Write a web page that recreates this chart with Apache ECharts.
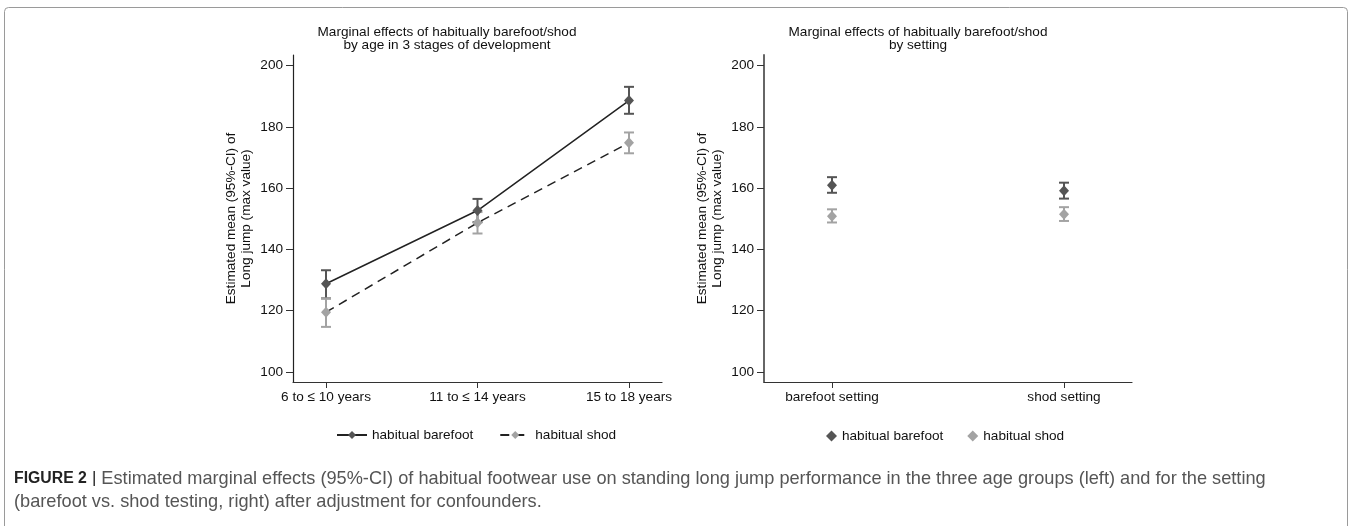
<!DOCTYPE html>
<html>
<head>
<meta charset="utf-8">
<script src="https://cdn.jsdelivr.net/npm/echarts@6/dist/echarts.min.js"></script>
<style>
  html, body { margin: 0; padding: 0; background: #fff; }
  #chart { width: 1354px; height: 526px; }
</style>
</head>
<body>
<div id="chart"></div>
<script>
// left panel: age groups
const ageGroups = ['6 to \u2264 10 years', '11 to \u2264 14 years', '15 to 18 years']
const ageBarefootMean = [128.8, 152.7, 188.6]
const ageBarefootLow = [124.0, 148.9, 184.3]
const ageBarefootHigh = [133.2, 156.5, 193.1]
const ageShodMean = [119.5, 148.7, 174.8]
const ageShodLow = [114.7, 145.2, 171.4]
const ageShodHigh = [124.0, 152.2, 178.2]

// right panel: setting
const settings = ['barefoot setting', 'shod setting']
const setBarefootMean = [161.0, 159.2]
const setBarefootLow = [158.5, 156.6]
const setBarefootHigh = [163.6, 161.8]
const setShodMean = [150.8, 151.5]
const setShodLow = [148.8, 149.3]
const setShodHigh = [153.1, 153.8]

const yTicks = [100, 120, 140, 160, 180, 200]

const DARK = '#555555'
const LIGHT = '#a3a3a3'
const LINE = '#222222'
const FONT = '"Liberation Sans", Arial, sans-serif'
const FS = 13.6

const pts = (means) => means.map((v, i) => [i + 1, v])
const bars = (lo, hi) => lo.map((v, i) => [i + 1, v, hi[i]])

const errorBar = (color) => (params, api) => {
  const top = api.coord([api.value(0), api.value(2)])
  const bot = api.coord([api.value(0), api.value(1)])
  const w = 5
  const style = { stroke: color, lineWidth: 2 }
  return {
    type: 'group',
    children: [
      { type: 'line', shape: { x1: top[0], y1: top[1], x2: bot[0], y2: bot[1] }, style },
      { type: 'line', shape: { x1: top[0] - w, y1: top[1], x2: top[0] + w, y2: top[1] }, style },
      { type: 'line', shape: { x1: bot[0] - w, y1: bot[1], x2: bot[0] + w, y2: bot[1] }, style },
    ],
  }
}

const yAxisBase = (gridIndex, axisColor, axisWidth) => ({
  type: 'value',
  gridIndex,
  min: 96.7,
  max: 203.5,
  splitLine: { show: false },
  axisLine: { show: true, lineStyle: { color: axisColor, width: axisWidth } },
  axisTick: { show: true, length: 7, customValues: yTicks, lineStyle: { color: '#333' } },
  axisLabel: { customValues: yTicks, color: '#111', fontSize: FS, fontFamily: FONT, margin: 10 },
  name: 'Estimated mean (95%-CI) of\nLong jump (max value)',
  nameLocation: 'middle',
  nameGap: 39,
  nameTextStyle: { color: '#111', fontSize: FS, fontFamily: FONT, lineHeight: 15 },
})

const xAxisBase = (gridIndex, min, max, cats) => ({
  type: 'value',
  gridIndex,
  min,
  max,
  splitLine: { show: false },
  axisLine: { show: true, lineStyle: { color: '#333', width: 1.2 } },
  axisTick: { show: true, length: 6, customValues: cats.map((c, i) => i + 1), lineStyle: { color: '#333' } },
  axisLabel: {
    customValues: cats.map((c, i) => i + 1),
    formatter: (v) => cats[Math.round(v) - 1] || '',
    color: '#111', fontSize: FS, fontFamily: FONT, margin: 8,
  },
})

const option = {
  backgroundColor: '#fff',
  animation: false,
  title: [
    {
      text: 'Marginal effects of habitually barefoot/shod\nby age in 3 stages of development',
      left: 442, top: 21, textAlign: 'center',
      textStyle: { fontSize: FS, fontWeight: 'normal', color: '#111', fontFamily: FONT, lineHeight: 13 },
    },
    {
      text: 'Marginal effects of habitually barefoot/shod\nby setting',
      left: 913, top: 21, textAlign: 'center',
      textStyle: { fontSize: FS, fontWeight: 'normal', color: '#111', fontFamily: FONT, lineHeight: 13 },
    },
  ],
  grid: [
    { left: 293, right: 692, top: 55, bottom: 144 },
    { left: 764, right: 222, top: 55, bottom: 144 },
  ],
  xAxis: [
    xAxisBase(0, 0.782, 3.218, ageGroups),
    xAxisBase(1, 0.707, 2.293, settings),
  ],
  yAxis: [
    yAxisBase(0, '#222', 1.2),
    yAxisBase(1, '#666', 2),
  ],
  legend: [
    {
      left: 331, top: 423,
      itemWidth: 30, itemHeight: 10, itemGap: 26,
      textStyle: { fontSize: FS, color: '#111', fontFamily: FONT },
      data: ['habitual barefoot', 'habitual shod'],
    },
    {
      left: 821, top: 424,
      itemWidth: 11, itemHeight: 11, itemGap: 24,
      textStyle: { fontSize: FS, color: '#111', fontFamily: FONT },
      data: [
        { name: 'habitual barefoot', icon: 'diamond', itemStyle: { color: DARK } },
        { name: 'habitual shod', icon: 'diamond', itemStyle: { color: LIGHT } },
      ],
    },
  ],
  series: [
    {
      name: 'habitual barefoot', type: 'line', xAxisIndex: 0, yAxisIndex: 0, z: 3,
      data: pts(ageBarefootMean),
      symbol: 'diamond', symbolSize: [10, 11], showAllSymbol: true,
      itemStyle: { color: DARK },
      lineStyle: { color: LINE, width: 1.5, type: 'solid' },
    },
    {
      name: 'habitual shod', type: 'line', xAxisIndex: 0, yAxisIndex: 0, z: 3,
      data: pts(ageShodMean),
      symbol: 'diamond', symbolSize: [10, 11], showAllSymbol: true,
      itemStyle: { color: LIGHT },
      lineStyle: { color: LINE, width: 1.5, type: [9, 6] },
    },
    {
      name: 'habitual barefoot', type: 'custom', xAxisIndex: 0, yAxisIndex: 0, z: 2,
      renderItem: errorBar(DARK), data: bars(ageBarefootLow, ageBarefootHigh),
    },
    {
      name: 'habitual shod', type: 'custom', xAxisIndex: 0, yAxisIndex: 0, z: 2,
      renderItem: errorBar(LIGHT), data: bars(ageShodLow, ageShodHigh),
    },
    {
      name: 'habitual barefoot', type: 'custom', xAxisIndex: 1, yAxisIndex: 1, z: 2,
      renderItem: errorBar(DARK), data: bars(setBarefootLow, setBarefootHigh),
    },
    {
      name: 'habitual shod', type: 'custom', xAxisIndex: 1, yAxisIndex: 1, z: 2,
      renderItem: errorBar(LIGHT), data: bars(setShodLow, setShodHigh),
    },
    {
      name: 'habitual barefoot', type: 'scatter', xAxisIndex: 1, yAxisIndex: 1, z: 3,
      data: pts(setBarefootMean), symbol: 'diamond', symbolSize: [10, 11],
      itemStyle: { color: DARK, opacity: 1 },
    },
    {
      name: 'habitual shod', type: 'scatter', xAxisIndex: 1, yAxisIndex: 1, z: 3,
      data: pts(setShodMean), symbol: 'diamond', symbolSize: [10, 11],
      itemStyle: { color: LIGHT, opacity: 1 },
    },
  ],
  graphic: [
    {
      type: 'rect', z: -1, silent: true,
      shape: { x: 4.5, y: 7.5, width: 1343, height: 540, r: 4 },
      style: { fill: 'none', stroke: '#9a9a9a', lineWidth: 1 },
    },
    {
      type: 'text', left: 14, top: 467,
      style: {
        text: '{b|FIGURE 2} {s||} Estimated marginal effects (95%-CI) of habitual footwear use on standing long jump performance in the three age groups (left) and for the setting\n(barefoot vs. shod testing, right) after adjustment for confounders.',
        fill: '#555', font: '18.2px ' + FONT, lineHeight: 23,
        rich: {
          b: { fontWeight: 'bold', fill: '#222', fontSize: 15.8, fontFamily: FONT },
          s: { fill: '#222', fontSize: 17, fontFamily: FONT },
        },
      },
    },
  ],
}

const chart = echarts.init(document.getElementById('chart'), null, { renderer: 'canvas' })
chart.setOption(option)
</script>
</body>
</html>
